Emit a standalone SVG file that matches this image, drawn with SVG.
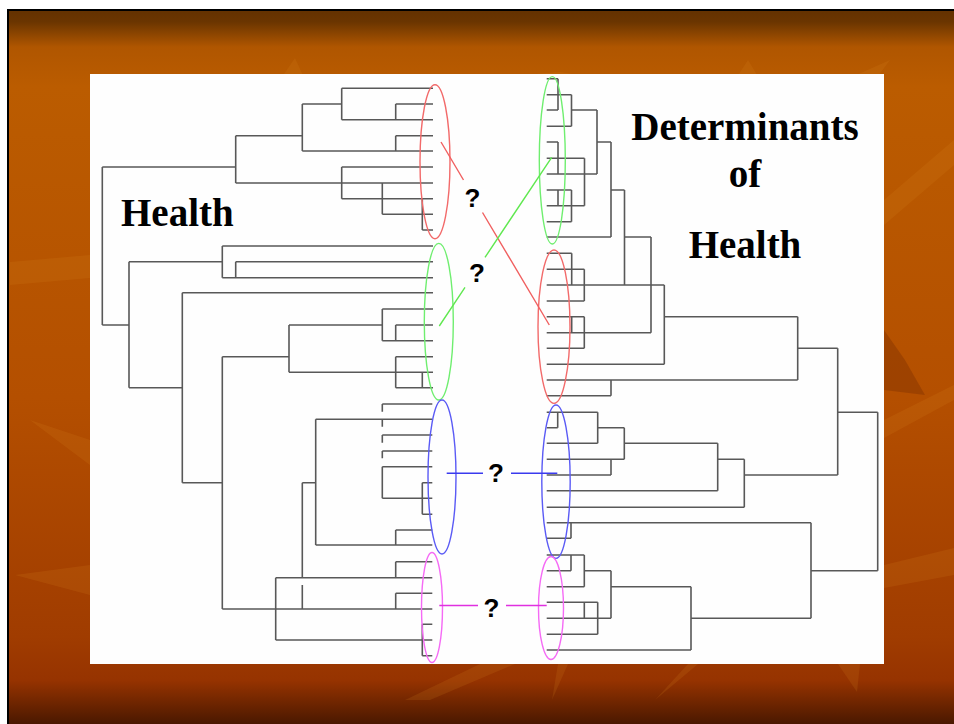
<svg xmlns="http://www.w3.org/2000/svg" width="954" height="724" viewBox="0 0 954 724">
<defs>
<linearGradient id="bg" x1="0" y1="0" x2="0" y2="724" gradientUnits="userSpaceOnUse">
<stop offset="0" stop-color="#5e2e00"/>
<stop offset="0.03" stop-color="#6a3500"/>
<stop offset="0.065" stop-color="#b05600"/>
<stop offset="0.12" stop-color="#bb5c00"/>
<stop offset="0.55" stop-color="#b44f00"/>
<stop offset="0.88" stop-color="#a03c00"/>
<stop offset="0.94" stop-color="#963300"/>
<stop offset="1" stop-color="#4a1800"/>
</linearGradient>
<style>
.tree{fill:none;stroke:#585858;stroke-width:1.6}
.ell{fill:none;stroke-width:1.4}
.lbl{font-family:"Liberation Serif","Times New Roman",serif;font-weight:bold;font-size:39px;fill:#000}
.q{font-family:"Liberation Sans",Arial,sans-serif;font-weight:bold;font-size:26px;fill:#000;text-anchor:middle}
.lnk{fill:none;stroke-width:1.4}
.streak{fill:#d98a20;opacity:0.16}
.dark{fill:#6a2500;opacity:0.3}
</style>
</defs>
<g id="background">
<rect x="0" y="0" width="954" height="724" fill="#ffffff"/>
<rect x="8" y="10" width="946" height="714" fill="url(#bg)"/>
<polygon class="streak" points="280,80 295,58 305,80"/>
<polygon class="streak" points="463,80 560,72 610,80"/>
<polygon class="streak" points="735,80 748,60 760,80"/>
<polygon class="streak" points="845,80 890,60 875,80"/>
<polygon class="streak" points="10,262 90,255 90,278 10,285"/>
<polygon class="streak" points="30,420 90,440 90,465"/>
<polygon class="streak" points="15,575 90,565 90,595"/>
<polygon class="streak" points="884,200 954,140 954,165 884,225"/>
<polygon class="dark" points="884,330 905,360 925,395 884,390"/>
<polygon class="streak" points="884,420 954,385 954,400 884,438"/>
<polygon class="streak" points="884,565 954,548 954,575 884,588"/>
<polygon class="streak" points="405,700 480,664 515,664 430,700"/>
<polygon class="streak" points="552,700 558,664 568,664"/>
<polygon class="streak" points="655,700 688,664 698,664"/>
<polygon class="streak" points="838,664 860,664 857,692"/>
<line x1="8" y1="10" x2="8" y2="724" stroke="#000" stroke-width="2"/>
<line x1="7" y1="10" x2="954" y2="10" stroke="#000" stroke-width="2"/>
</g>
<g id="panel">
<rect x="90" y="74" width="794" height="590" fill="#fefefe"/>
</g>
<g id="health-dendrogram">
<path class="tree" d="
M341.7 88.3H433 M395.7 104H433 M395.7 104V119.7 M341.7 119.7H433 M341.7 88.3V119.7
M302.3 104H341.7 M302.3 104V151 M395.7 135.7H433 M395.7 135.7V151 M302.3 151H433
M235.7 135.7H302.3 M235.7 135.7V183 M341.7 167H433 M341.7 167V198.7 M235.7 183H433
M382.3 183V214.3 M341.7 198.7H433 M382.3 214.3H433 M422.3 198.7V230 M422.3 230H433
M102.3 167H235.7 M102.3 167V325 M102.3 325H129
M222.3 246H433 M222.3 246V277.7 M129 261.7H222.3 M235.7 261.7H433 M235.7 261.7V277.7 M222.3 277.7H433
M129 261.7V387.7 M182.3 292.7H433 M182.3 292.7V482.7 M129 387.7H182.3
M382.3 309H433 M382.3 309V340.7 M289 325H382.3 M395.7 325H433 M395.7 325V340.7 M382.3 340.7H433
M289 325V372.3 M222.3 356.7H289 M395.7 356.7H433 M395.7 356.7V387.7 M289 372.3H433 M422.3 372.3V387.7 M395.7 387.7H433
M222.3 356.7V609 M182.3 482.7H222.3
M382.3 404H432.3 M382.3 404V411.7 M315.7 419.3H432.3 M382.3 419.3V426.7
M382.3 435H432.3 M382.3 435V442.7 M382.3 451H432.3 M382.3 451V458.3
M382.3 466.7H432.3 M382.3 466.7V498.3 M422.3 482.7H432.3 M422.3 482.7V514.3
M382.3 498.3H432.3 M422.3 514.3H432.3 M395.7 530H432.3 M395.7 530V545 M315.7 545H432.3
M315.7 419.3V545 M302.3 482.7H315.7 M302.3 482.7V577.7
M275.7 577.7H432.3 M395.7 561.7H432.3 M395.7 561.7V577.7
M302.3 585V609 M222.3 609H432.3 M395.7 593.3H432.3 M395.7 593.3V609
M275.7 577.7V640 M275.7 640H432.3 M422.3 624.3H432.3 M422.3 624.3V655.7 M422.3 655.7H432.3"/>
</g>
<g id="determinants-dendrogram">
<path class="tree" d="
M546.7 78.7H558 M558 78.7V110 M546.7 94.7H571.5 M571.5 94.7V126.3
M546.7 110H558 M571.5 110H597 M546.7 126.3H571.5 M597 110V174
M546.7 142H558 M597 142H611 M558 142V174 M546.7 158.3H584.5 M584.5 158.3V205.7
M546.7 174H597 M546.7 190H571.5 M611 190H624.5 M558 190V205.7 M571.5 190V221.7
M546.7 205.7H584.5 M546.7 221.7H571.5 M546.7 237H611 M624.5 237H651
M611 142V237 M624.5 190V285 M651 237V332.7
M546.7 253.3H571.7 M571.7 253.3V285 M546.7 269.3H584.3 M584.3 269.3V301
M546.7 285H664.3 M546.7 301H584.3 M546.7 316.7H584.3 M584.3 316.7V348.3 M571.7 316.7V332.7
M546.7 332.7H651 M546.7 348.3H584.3 M664.3 285V364.3 M546.7 364.3H664.3
M664.3 316.7H797.7 M797.7 316.7V380 M546.7 380H797.7 M611 380V395.7 M546.7 395.7H611
M797.7 348.3H837.7 M837.7 348.3V475
M546.7 412.3H597.7 M557.7 412.3V427.7 M546.7 427.7H557.7 M597.7 427.7H624.3 M597.7 412.3V443.3
M546.7 443.3H597.7 M624.3 443.3H717.7 M624.3 427.7V459.3 M546.7 459.3H624.3
M611 459.3V475 M546.7 475H611 M546.7 490.7H717.7 M717.7 443.3V490.7
M717.7 459.3H744.3 M744.3 459.3V507.3 M546.7 507.3H744.3 M744.3 475H837.7
M837.7 412.3H877.7 M877.7 412.3V570.7
M546.7 522.7H811 M811 522.7V618.3 M571 522.7V538.3 M546.7 538.3H571 M811 570.7H877.7
M546.7 555H584.3 M571 555V570.7 M584.3 555V586.7 M546.7 570.7H571 M584.3 570.7H611
M611 570.7V618.3 M546.7 586.7H584.3 M611 586.7H691
M546.7 602.3H597.7 M584.3 602.3V618.3 M597.7 602.3V634.3
M546.7 618.3H611 M546.7 634.3H597.7 M691 586.7V650 M546.7 650H691 M691 618.3H811"/>
</g>
<g id="cluster-red-left"><ellipse class="ell" cx="435" cy="161.7" rx="15" ry="77" stroke="#f26a6a"/></g>
<g id="cluster-green-left"><ellipse class="ell" cx="438.8" cy="321.7" rx="14.5" ry="78.3" stroke="#6fee6f"/></g>
<g id="cluster-blue-left"><ellipse class="ell" cx="442" cy="477" rx="14" ry="77" stroke="#5a5af5"/></g>
<g id="cluster-magenta-left"><ellipse class="ell" cx="432" cy="607.5" rx="10.5" ry="55" stroke="#f56af5"/></g>
<g id="cluster-green-right"><ellipse class="ell" cx="552.3" cy="160.3" rx="13" ry="83.7" stroke="#6fee6f"/></g>
<g id="cluster-red-right"><ellipse class="ell" cx="554" cy="326.7" rx="16" ry="76.7" stroke="#f26a6a"/></g>
<g id="cluster-blue-right"><ellipse class="ell" cx="556" cy="481.7" rx="14.2" ry="76.7" stroke="#5a5af5"/></g>
<g id="cluster-magenta-right"><ellipse class="ell" cx="551" cy="608" rx="12.5" ry="51.5" stroke="#f56af5"/></g>
<g id="connectors">
<path class="lnk" stroke="#f06060" d="M441 142L463.5 180 M482.5 212.5L549.3 325"/>
<path class="lnk" stroke="#60e850" d="M439.3 326L465 287.4 M485 257.4L551.7 157.3"/>
<path class="lnk" stroke="#3a3aee" d="M446.7 473.3H483 M511 473.3H557.3"/>
<path class="lnk" stroke="#e030e0" d="M439.3 605.5H478 M506 605.5H546.7"/>
</g>
<g id="labels">
<text class="lbl" x="121" y="226">Health</text>
<text class="lbl" x="745" y="140" text-anchor="middle">Determinants</text>
<text class="lbl" x="745" y="187" text-anchor="middle">of</text>
<text class="lbl" x="745" y="258" text-anchor="middle">Health</text>
<text class="q" x="472.5" y="207">?</text>
<text class="q" x="477" y="282">?</text>
<text class="q" x="496" y="482">?</text>
<text class="q" x="491.5" y="617">?</text>
</g>
</svg>
